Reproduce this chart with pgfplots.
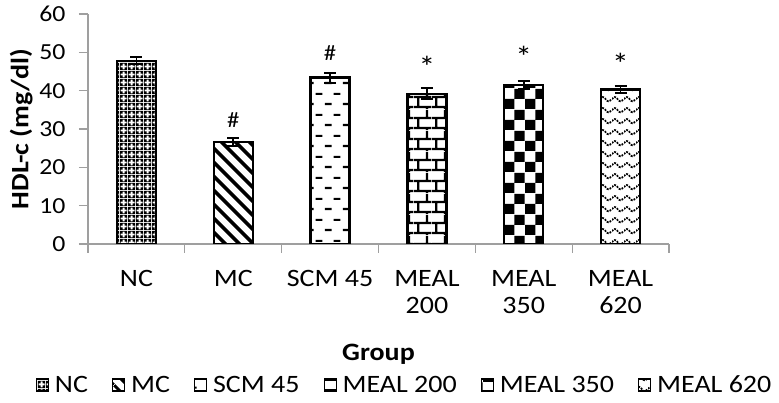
\documentclass[border=0pt]{standalone}
\usepackage{fontspec}
\setmainfont{Carlito}[FakeStretch=1.12]
\usepackage{pgfplots}
\pgfplotsset{compat=1.18}
\usetikzlibrary{patterns,patterns.meta}

% NC: white plus shapes in a black grid
\pgfdeclarepatternformonly{plusgrid}{\pgfqpoint{0pt}{0pt}}{\pgfqpoint{7.5pt}{7.5pt}}{\pgfqpoint{7.5pt}{7.5pt}}{
  \pgfseteorule
  \pgfpathrectangle{\pgfqpoint{0pt}{0pt}}{\pgfqpoint{7.5pt}{7.5pt}}
  \pgfpathmoveto{\pgfqpoint{2.75pt}{0.6pt}}
  \pgfpathlineto{\pgfqpoint{4.75pt}{0.6pt}}
  \pgfpathlineto{\pgfqpoint{4.75pt}{2.75pt}}
  \pgfpathlineto{\pgfqpoint{6.9pt}{2.75pt}}
  \pgfpathlineto{\pgfqpoint{6.9pt}{4.75pt}}
  \pgfpathlineto{\pgfqpoint{4.75pt}{4.75pt}}
  \pgfpathlineto{\pgfqpoint{4.75pt}{6.9pt}}
  \pgfpathlineto{\pgfqpoint{2.75pt}{6.9pt}}
  \pgfpathlineto{\pgfqpoint{2.75pt}{4.75pt}}
  \pgfpathlineto{\pgfqpoint{0.6pt}{4.75pt}}
  \pgfpathlineto{\pgfqpoint{0.6pt}{2.75pt}}
  \pgfpathlineto{\pgfqpoint{2.75pt}{2.75pt}}
  \pgfpathclose
  \pgfusepath{fill}}

% SCM 45: staggered short dashes
\pgfdeclarepatternformonly{dashrows}{\pgfqpoint{0pt}{0pt}}{\pgfqpoint{18pt}{21pt}}{\pgfqpoint{18pt}{21pt}}{
  \pgfsetlinewidth{2.2pt}
  \pgfpathmoveto{\pgfqpoint{1pt}{5.25pt}}\pgfpathlineto{\pgfqpoint{8pt}{5.25pt}}
  \pgfpathmoveto{\pgfqpoint{10pt}{15.75pt}}\pgfpathlineto{\pgfqpoint{17pt}{15.75pt}}
  \pgfusepath{stroke}}

% MEAL 200: bricks
\pgfdeclarepatternformonly{brickrows}{\pgfqpoint{0pt}{0pt}}{\pgfqpoint{18pt}{21pt}}{\pgfqpoint{18pt}{21pt}}{
  \pgfsetlinewidth{2.3pt}
  \pgfpathmoveto{\pgfqpoint{0pt}{2pt}}\pgfpathlineto{\pgfqpoint{18pt}{2pt}}
  \pgfpathmoveto{\pgfqpoint{0pt}{12.5pt}}\pgfpathlineto{\pgfqpoint{18pt}{12.5pt}}
  \pgfpathmoveto{\pgfqpoint{4.5pt}{2pt}}\pgfpathlineto{\pgfqpoint{4.5pt}{12.5pt}}
  \pgfpathmoveto{\pgfqpoint{13.5pt}{12.5pt}}\pgfpathlineto{\pgfqpoint{13.5pt}{21pt}}
  \pgfpathmoveto{\pgfqpoint{13.5pt}{0pt}}\pgfpathlineto{\pgfqpoint{13.5pt}{2pt}}
  \pgfusepath{stroke}}

% MEAL 350: checkerboard
\pgfdeclarepatternformonly{bigchecker}{\pgfqpoint{0pt}{0pt}}{\pgfqpoint{21pt}{21pt}}{\pgfqpoint{21pt}{21pt}}{
  \pgfpathrectangle{\pgfqpoint{0pt}{0pt}}{\pgfqpoint{10.5pt}{10.5pt}}
  \pgfpathrectangle{\pgfqpoint{10.5pt}{10.5pt}}{\pgfqpoint{10.5pt}{10.5pt}}
  \pgfusepath{fill}}

% MEAL 620: dotted waves
\pgfdeclarepatternformonly{dotwaves}{\pgfqpoint{0pt}{0pt}}{\pgfqpoint{12pt}{10.5pt}}{\pgfqpoint{12pt}{10.5pt}}{
  \pgfsetlinewidth{1.8pt}
  \pgfsetdash{{2pt}{1.2pt}}{0pt}
  \pgfpathmoveto{\pgfqpoint{0pt}{4pt}}
  \pgfpathcurveto{\pgfqpoint{2pt}{7pt}}{\pgfqpoint{4pt}{7pt}}{\pgfqpoint{6pt}{4pt}}
  \pgfpathcurveto{\pgfqpoint{8pt}{1pt}}{\pgfqpoint{10pt}{1pt}}{\pgfqpoint{12pt}{4pt}}
  \pgfusepath{stroke}}

\begin{document}
\begin{tikzpicture}
\begin{axis}[
    width=581pt, height=230pt, scale only axis,
    xmin=-0.5, xmax=5.5, ymin=0, ymax=60,
    axis x line*=bottom, axis y line*=left,
    axis line style={gray!75, line width=1.3pt},
    tick align=outside,
    major tick length=9pt,
    tick style={gray!75, line width=1.3pt},
    ytick={0,10,...,60},
    xtick={-0.5,0.5,1.5,2.5,3.5,4.5,5.5},
    xticklabels={},
    extra x ticks={0,1,2,3,4,5},
    extra x tick labels={NC,MC,SCM 45,{MEAL\\200},{MEAL\\350},{MEAL\\620}},
    extra x tick style={major tick length=0pt,
        tick label style={align=center, anchor=north, yshift=-23pt,
            font=\fontsize{25}{27}\selectfont}},
    /pgf/number format/assume math mode=true,
    y tick label style={font=\fontsize{23}{25}\selectfont, xshift=-10pt},
    ylabel={\textbf{HDL-c (mg/dl)}},
    xlabel={\textbf{Group}},
    label style={font=\fontsize{25}{26}\selectfont},
    ylabel style={yshift=0pt},
    xlabel style={yshift=-14pt},
    legend columns=6,
    legend style={draw=none, at={(0.545,-0.613)}, anchor=center,
        font=\fontsize{25}{26}\selectfont,
        /tikz/every odd column/.style={column sep=4pt},
        /tikz/every even column/.style={column sep=22pt}},
    legend image code/.code={\draw[#1,line width=1.1pt] (0pt,-6pt) rectangle (12pt,6pt);},
    every axis plot/.append style={ybar, bar width=39pt, bar shift=0pt,
        draw=black, line width=2.3pt},
    error bars/error bar style={line width=1.8pt, black},
    error bars/error mark options={rotate=90, line width=1.8pt, mark size=6pt, black},
]
\addplot[pattern=plusgrid, error bars/.cd, y dir=both, y explicit]
    coordinates {(0,47.8) +- (0,0.9)};
\addplot[pattern={Lines[angle=-45,distance=10.5pt,line width=4pt]}, error bars/.cd, y dir=both, y explicit]
    coordinates {(1,26.6) +- (0,1.1)};
\addplot[pattern=dashrows, error bars/.cd, y dir=both, y explicit]
    coordinates {(2,43.4) +- (0,1.3)};
\addplot[pattern=brickrows, error bars/.cd, y dir=both, y explicit]
    coordinates {(3,39.2) +- (0,1.4)};
\addplot[pattern=bigchecker, error bars/.cd, y dir=both, y explicit]
    coordinates {(4,41.5) +- (0,1.0)};
\addplot[pattern=dotwaves, error bars/.cd, y dir=both, y explicit]
    coordinates {(5,40.3) +- (0,0.9)};
\legend{NC, MC, SCM 45, MEAL 200, MEAL 350, MEAL 620}

\node[font=\fontsize{22}{20}\selectfont] at (axis cs:1,32.4) {\#};
\node[font=\fontsize{22}{20}\selectfont] at (axis cs:2,49.9) {\#};
\node[font=\fontsize{30}{20}\selectfont] at (axis cs:3,46.2) {*};
\node[font=\fontsize{30}{20}\selectfont] at (axis cs:4,48.8) {*};
\node[font=\fontsize{30}{20}\selectfont] at (axis cs:5,47.0) {*};
\end{axis}
\pgfresetboundingbox
\path ([shift={(-88pt,244pt)}]current axis.south west) rectangle ([shift={(691pt,-159pt)}]current axis.south west);
\end{tikzpicture}
\end{document}
